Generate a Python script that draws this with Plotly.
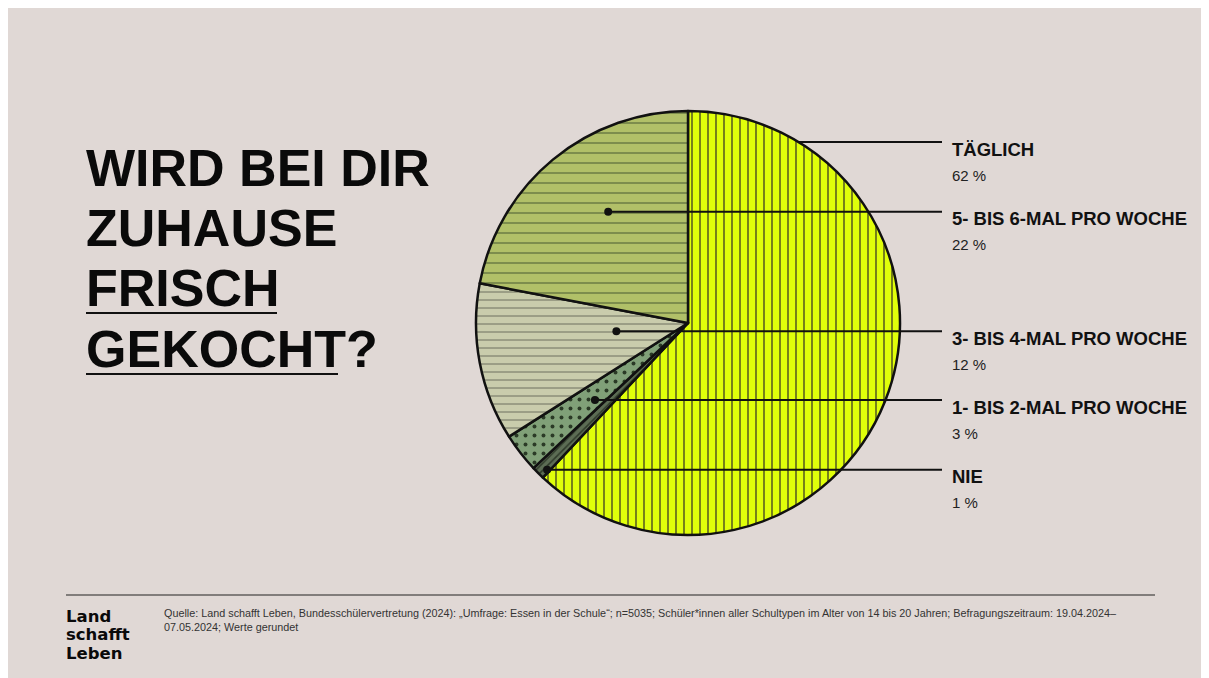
import math
import plotly.graph_objects as go

# ---- data ----
categories = ["TÄGLICH", "NIE", "1- BIS 2-MAL PRO WOCHE", "3- BIS 4-MAL PRO WOCHE", "5- BIS 6-MAL PRO WOCHE"]
values = [62, 1, 3, 12, 22]
value_labels = ["62 %", "1 %", "3 %", "12 %", "22 %"]

title_lines = ["WIRD BEI DIR", "ZUHAUSE", "FRISCH", "GEKOCHT?"]
logo_lines = ["Land", "schafft", "Leben"]
source_text = ("Quelle: Land schafft Leben, Bundesschülervertretung (2024): „Umfrage: Essen in der Schule“; n=5035; "
               "Schüler*innen aller Schultypen im Alter von 14 bis 20 Jahren; Befragungszeitraum: 19.04.2024–<br>"
               "07.05.2024; Werte gerundet")

# ---- layout constants ----
OFF = 8                      # page body margin of the html page
SW, SH = 1209, 678           # screen size
W, H = SW - OFF, SH - OFF    # figure size
CX, CY, R = 688, 323, 212    # pie centre / radius in screen pixels
BG = "#e0d8d5"
colors = ["#e0ff0a", "#5c6c54", "#80a078", "#c9ccac", "#b1c068"]
shapes_pat = ["|", "/", ".", "-", "-"]
fgcols = ["#3a3a22", "#2f3a2a", "#2a3a26", "#55574a", "#5a6a3a"]
pat_sizes = [8, 5, 9, 8, 10]
pat_sol = [0.16, 0.3, 0.15, 0.1, 0.12]
# dot placement: (fraction within slice, radius fraction); None -> line from edge
dot_spec = [None, (0.17, 0.96), (0.33, 0.57), (0.60, 0.34), (0.55, 0.646)]
label_y_edge = 142
LINE_END_X = 942
LABEL_X = 950
BOLD_FONT = "Liberation Sans, Arial"

fig = go.Figure()

fig.add_trace(go.Pie(
    labels=categories, values=values, sort=False, direction="clockwise", rotation=0,
    textinfo="none", hoverinfo="skip", showlegend=False,
    marker=dict(colors=colors, line=dict(color="#111111", width=2.5),
                pattern=dict(shape=shapes_pat, fgcolor=fgcols, bgcolor=colors, fillmode="replace",
                             size=pat_sizes, solidity=pat_sol)),
    domain=dict(x=[(CX - R - OFF) / W, (CX + R - OFF) / W],
                y=[(SH - CY - R) / H, (SH - CY + R) / H]),
))

# invisible scatter to set axes (screen-pixel coordinates)
fig.add_trace(go.Scatter(x=[OFF, SW], y=[OFF, SH], mode="markers", marker=dict(opacity=0),
                         hoverinfo="skip", showlegend=False))

shapes = []
annotations = []

total = sum(values)
start = 0.0
for i, (cat, v) in enumerate(zip(categories, values)):
    a0 = start / total * 360
    a1 = (start + v) / total * 360
    start += v
    spec = dot_spec[i]
    if spec is None:
        ly = label_y_edge
        dy = ly - CY
        lx = CX + math.sqrt(R * R - dy * dy)
    else:
        f, rf = spec
        ang = math.radians(a0 + f * (a1 - a0))
        lx = CX + rf * R * math.sin(ang)
        ly = CY - rf * R * math.cos(ang)
        shapes.append(dict(type="circle", xref="x", yref="y", x0=lx - 4, x1=lx + 4, y0=ly - 4, y1=ly + 4,
                           fillcolor="#111111", line=dict(width=0), layer="above"))
    shapes.append(dict(type="line", xref="x", yref="y", x0=lx, x1=LINE_END_X, y0=ly, y1=ly,
                       line=dict(color="#111111", width=2), layer="above"))
    annotations.append(dict(x=LABEL_X, y=ly + 7, xref="x", yref="y", text="<b>" + cat + "</b>", showarrow=False,
                            xanchor="left", yanchor="middle",
                            font=dict(family=BOLD_FONT, size=18.5, color="#111111", weight=900)))
    annotations.append(dict(x=LABEL_X, y=ly + 33, xref="x", yref="y", text=value_labels[i], showarrow=False,
                            xanchor="left", yanchor="middle",
                            font=dict(family="Liberation Sans, Arial", size=15, color="#222222")))

# title
title_y = [168, 228, 288, 349]
for t, y in zip(title_lines, title_y):
    annotations.append(dict(x=84, y=y, xref="x", yref="y", text="<b>" + t + "</b>", showarrow=False,
                            xanchor="left", yanchor="middle",
                            font=dict(family=BOLD_FONT, size=52, color="#0a0a0a", weight=900)))
shapes.append(dict(type="line", xref="x", yref="y", x0=86, x1=277, y0=313, y1=313, line=dict(color="#111", width=2)))
shapes.append(dict(type="line", xref="x", yref="y", x0=86, x1=338, y0=374, y1=374, line=dict(color="#111", width=2)))

# footer
shapes.append(dict(type="line", xref="x", yref="y", x0=66, x1=1155, y0=595, y1=595, line=dict(color="#222", width=1.2)))
for t, y in zip(logo_lines, [616, 634.5, 653]):
    annotations.append(dict(x=64, y=y, xref="x", yref="y", text="<b>" + t + "</b>", showarrow=False,
                            xanchor="left", yanchor="middle",
                            font=dict(family="DejaVu Sans, Liberation Sans", size=16.5, color="#0a0a0a", weight=900)))
annotations.append(dict(x=162, y=620, xref="x", yref="y", text=source_text, showarrow=False,
                        xanchor="left", yanchor="middle", align="left",
                        font=dict(family="Liberation Sans, Arial", size=10.8, color="#333333")))

fig.update_layout(
    width=W, height=H, autosize=False, margin=dict(l=0, r=0, t=0, b=0),
    paper_bgcolor=BG, plot_bgcolor="rgba(0,0,0,0)",
    xaxis=dict(range=[OFF, SW], visible=False, fixedrange=True),
    yaxis=dict(range=[SH, OFF], visible=False, fixedrange=True),
    shapes=shapes, annotations=annotations, showlegend=False,
)

fig.write_html("out.html")
